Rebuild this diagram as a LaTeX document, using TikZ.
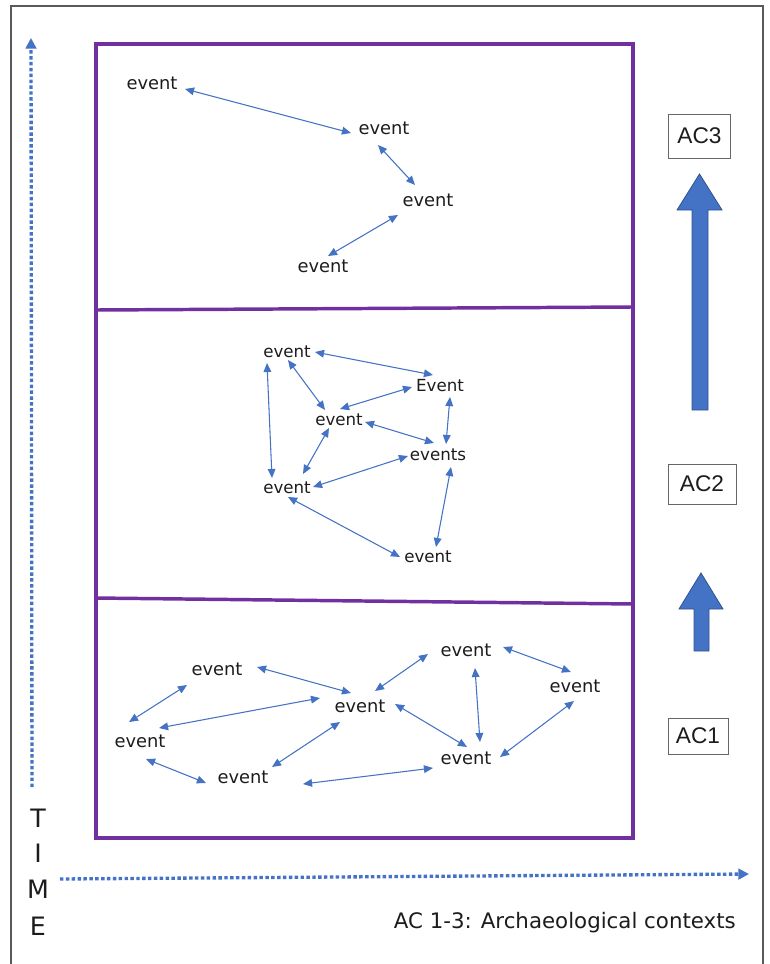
\documentclass[tikz,border=0pt]{standalone}
\usepackage{fontspec}
\setmainfont{DejaVu Sans}
\newfontfamily\arialfont{Liberation Sans}
\usetikzlibrary{arrows.meta,calc}
\definecolor{evblue}{HTML}{4472C4}
\definecolor{evpurple}{HTML}{7030A0}
\definecolor{evdark}{HTML}{2F528F}
\definecolor{evtext}{HTML}{1C1C1C}
\begin{document}
\begin{tikzpicture}[x=0.75pt,y=-0.75pt,
  ev/.style={anchor=base,inner sep=0pt,text=evtext,font=\fontsize{13.4}{15}\selectfont},
  evs/.style={ev,font=\fontsize{12.5}{14}\selectfont},
  link/.style={evblue,line width=0.8pt,{Triangle[length=6.8pt,width=5.8pt]}-{Triangle[length=6.8pt,width=5.8pt]}},
  acbox/.style={draw=black!60,line width=0.6pt,fill=white,inner sep=0pt,text=evtext,font=\arialfont\fontsize{17}{19}\selectfont},
  ctx/.style={draw=evpurple,line width=2.6pt},
  timeline/.style={evblue,line width=2.5pt,dash pattern=on 2.6pt off 1.8pt,-{Triangle[length=8pt,width=8pt]}},
  blockarrow/.style={fill=evblue,draw=evdark,line width=0.6pt},
  letter/.style={anchor=base,inner sep=0pt,text=evtext,font=\fontsize{19}{21}\selectfont}]
\useasboundingbox (0,0) rectangle (769,964);
% outer frame
\draw[black!65,line width=1.2pt] (11,6) rectangle (763,980);
% context boxes
\draw[ctx] (96,44) rectangle (633,838);
\draw[ctx] (96,310) -- (632,307);
\draw[ctx] (95,598) -- (633,604);
% time axes
\coordinate (tbot) at (32,787);
\coordinate (ttop) at (31,38);
\draw[timeline] (tbot) -- (ttop);
\coordinate (hl) at (60,879);
\coordinate (hr) at (749,874);
\draw[timeline] (hl) -- (hr);
% TIME
\node[letter] (lT) at (38,827) {T};
\node[letter] (lI) at (38,862) {I};
\node[letter] (lM) at (38,898) {M};
\node[letter] (lE) at (38,935) {E};
% legend
\node[anchor=base east,inner sep=0pt,text=evtext,font=\fontsize{16}{18}\selectfont] (legend) at (736,928) {AC 1-3: Archaeological contexts};
% AC boxes
\node[acbox,minimum width=47pt,minimum height=33pt] (ac3) at (699.5,136) {AC3};
\node[acbox,minimum width=51pt,minimum height=30pt] (ac2) at (702,484) {AC2};
\node[acbox,minimum width=45pt,minimum height=27pt] (ac1) at (698,736) {AC1};
% block arrows
\draw[blockarrow] (692,410) -- (692,210) -- (677,210) -- (699.5,174) -- (722,210) -- (708,210) -- (708,410) -- cycle;
\draw[blockarrow] (694,651) -- (694,609) -- (679,609) -- (701,573) -- (723,609) -- (709,609) -- (709,651) -- cycle;
% AC3 events
\node[ev] (e1) at (152,89) {event};
\node[ev] (e2) at (384,134) {event};
\node[ev] (e3) at (428,206) {event};
\node[ev] (e4) at (323,272) {event};
\draw[link] ($(e1.base)+(33,0)$) -- ($(e2.base)+(-33,-1)$);
\draw[link] ($(e2.base)+(-6,11)$) -- ($(e3.base)+(-13,-21)$);
\draw[link] ($(e3.base)+(-30,9)$) -- ($(e4.base)+(5,-16)$);
% AC2 events
\node[evs] (m1) at (287,357) {event};
\node[evs] (m2) at (440,391) {Event};
\node[evs] (m3) at (339,425) {event};
\node[evs] (m4) at (438,460) {events};
\node[evs] (m5) at (287,493) {event};
\node[evs] (m6) at (428,562) {event};
\draw[link] ($(m1.base)+(28,-5)$) -- ($(m2.base)+(-7,-16)$);
\draw[link] ($(m1.base)+(-20,6)$) -- ($(m5.base)+(-15,-15)$);
\draw[link] ($(m1.base)+(1,3)$) -- ($(m3.base)+(-14,-15)$);
\draw[link] ($(m2.base)+(-28,-4)$) -- ($(m3.base)+(1,-16)$);
\draw[link] ($(m2.base)+(10,6)$) -- ($(m4.base)+(8,-16)$);
\draw[link] ($(m3.base)+(26,-3)$) -- ($(m4.base)+(-4,-17)$);
\draw[link] ($(m3.base)+(-10,3)$) -- ($(m5.base)+(16,-19)$);
\draw[link] ($(m4.base)+(-30,-4)$) -- ($(m5.base)+(26,-6)$);
\draw[link] ($(m4.base)+(13,7)$) -- ($(m6.base)+(8,-15)$);
\draw[link] ($(m5.base)+(1,4)$) -- ($(m6.base)+(-28,-5)$);
% AC1 events
\node[ev] (b1) at (217,675) {event};
\node[ev] (b2) at (140,747) {event};
\node[ev] (b3) at (243,783) {event};
\node[ev] (b4) at (360,712) {event};
\node[ev] (b5) at (466,656) {event};
\node[ev] (b6) at (575,692) {event};
\node[ev] (b7) at (466,764) {event};
\draw[link] ($(b1.base)+(-30,10)$) -- ($(b2.base)+(-11,-25)$);
\draw[link] ($(b1.base)+(40,-8)$) -- ($(b4.base)+(-9,-19)$);
\draw[link] ($(b2.base)+(19,-19)$) -- ($(b4.base)+(-40,-14)$);
\draw[link] ($(b2.base)+(6,12)$) -- ($(b3.base)+(-37,0)$);
\draw[link] ($(b3.base)+(29,-16)$) -- ($(b4.base)+(-20,10)$);
\draw[link] ($(b3.base)+(60,1)$) -- ($(b7.base)+(-33,4)$);
\draw[link] ($(b4.base)+(15,-21)$) -- ($(b5.base)+(-38,-2)$);
\draw[link] ($(b4.base)+(35,-8)$) -- ($(b7.base)+(1,-17)$);
\draw[link] ($(b5.base)+(9,12)$) -- ($(b7.base)+(14,-22)$);
\draw[link] ($(b5.base)+(37,-9)$) -- ($(b6.base)+(-4,-20)$);
\draw[link] ($(b6.base)+(-1,9)$) -- ($(b7.base)+(34,-7)$);
\end{tikzpicture}
\end{document}
